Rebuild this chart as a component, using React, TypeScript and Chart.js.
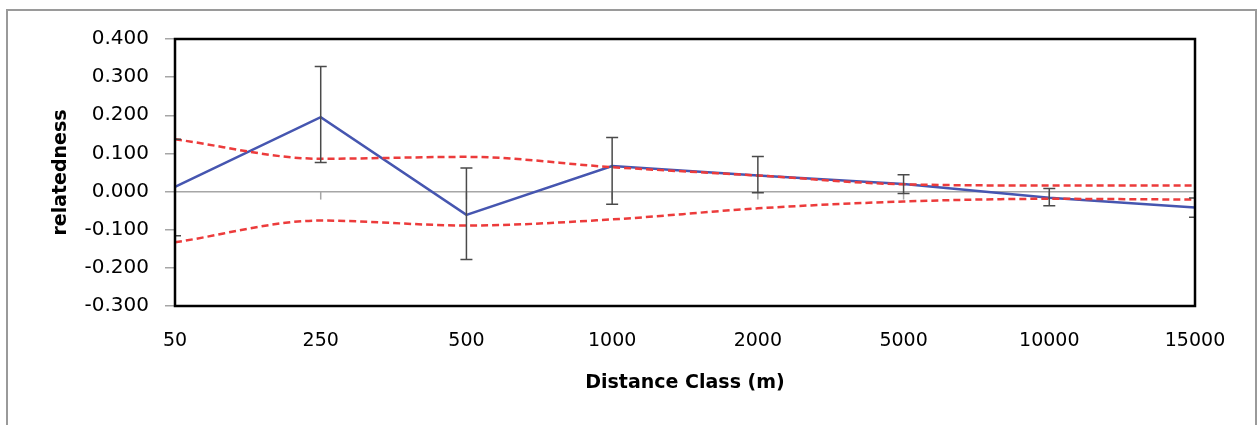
import React, { useEffect, useRef } from "react";
import { Chart, registerables } from "chart.js";

Chart.register(...registerables);

const distanceClasses = ["50", "250", "500", "1000", "2000", "5000", "10000", "15000"];
const relatedness = [0.012, 0.195, -0.061, 0.067, 0.042, 0.02, -0.016, -0.042];
const errorHigh = [0.137, 0.328, 0.062, 0.142, 0.092, 0.044, 0.008, -0.017];
const errorLow = [-0.116, 0.076, -0.178, -0.033, -0.003, -0.005, -0.037, -0.067];
const upperCI = [0.137, 0.086, 0.091, 0.064, 0.042, 0.019, 0.016, 0.016];
const lowerCI = [-0.133, -0.076, -0.089, -0.073, -0.044, -0.026, -0.019, -0.021];
const yTicks = [-0.3, -0.2, -0.1, 0, 0.1, 0.2, 0.3, 0.4];

const frameAndBars = {
  id: "frameAndBars",
  beforeDatasetsDraw(chart: any) {
    const { ctx, scales } = chart;
    const x = scales.x;
    const y = scales.y;
    const y0 = y.getPixelForValue(0);
    ctx.save();
    ctx.strokeStyle = "#a6a6a6";
    ctx.lineWidth = 1.5;
    distanceClasses.forEach((_, i) => {
      const px = x.getPixelForValue(i);
      ctx.beginPath();
      ctx.moveTo(px, y0);
      ctx.lineTo(px, y0 + 8);
      ctx.stroke();
    });
    ctx.restore();
  },
  afterDatasetsDraw(chart: any) {
    const { ctx, chartArea, scales } = chart;
    const x = scales.x;
    const y = scales.y;
    ctx.save();
    ctx.beginPath();
    ctx.rect(chartArea.left, chartArea.top, chartArea.right - chartArea.left, chartArea.bottom - chartArea.top);
    ctx.clip();
    ctx.strokeStyle = "#4a4a4a";
    ctx.lineWidth = 1.5;
    distanceClasses.forEach((_, i) => {
      const px = x.getPixelForValue(i);
      const hi = y.getPixelForValue(errorHigh[i]);
      const lo = y.getPixelForValue(errorLow[i]);
      ctx.beginPath();
      ctx.moveTo(px, hi);
      ctx.lineTo(px, lo);
      ctx.moveTo(px - 6, hi);
      ctx.lineTo(px + 6, hi);
      ctx.moveTo(px - 6, lo);
      ctx.lineTo(px + 6, lo);
      ctx.stroke();
    });
    ctx.restore();
    ctx.save();
    ctx.strokeStyle = "#000000";
    ctx.lineWidth = 2.5;
    ctx.strokeRect(chartArea.left, chartArea.top, chartArea.right - chartArea.left, chartArea.bottom - chartArea.top);
    ctx.restore();
  },
};

export default function App() {
  const ref = useRef<HTMLCanvasElement>(null);
  useEffect(() => {
    if (!ref.current) return;
    const chart = new Chart(ref.current, {
      type: "line",
      data: {
        labels: distanceClasses,
        datasets: [
          {
            label: "relatedness",
            data: relatedness,
            borderColor: "#4656b0",
            borderWidth: 2.5,
            pointRadius: 0,
            tension: 0,
            order: 3,
          },
          {
            label: "U",
            data: upperCI,
            borderColor: "#ec3b3b",
            borderWidth: 2.5,
            borderDash: [7, 4],
            pointRadius: 0,
            cubicInterpolationMode: "monotone",
            order: 1,
          },
          {
            label: "L",
            data: lowerCI,
            borderColor: "#ec3b3b",
            borderWidth: 2.5,
            borderDash: [7, 4],
            pointRadius: 0,
            cubicInterpolationMode: "monotone",
            order: 2,
          },
        ],
      },
      options: {
        responsive: false,
        animation: false,
        layout: { padding: { left: 50, right: 63, top: 39, bottom: 31 } },
        plugins: { legend: { display: false }, tooltip: { enabled: false } },
        scales: {
          x: {
            offset: false,
            border: { display: false },
            grid: { display: false, drawTicks: false },
            ticks: {
              color: "#000",
              font: { family: "DejaVu Sans", size: 19 },
              padding: 24,
              maxRotation: 0,
              autoSkip: false,
            },
            title: {
              display: true,
              text: "Distance Class (m)",
              color: "#000",
              font: { family: "DejaVu Sans", size: 19, weight: "bold" },
              padding: { top: 0, bottom: 0 },
            },
            afterFit(scale: any) {
              scale.height = 88;
            },
          },
          y: {
            min: -0.3,
            max: 0.4,
            border: { display: false },
            afterBuildTicks(scale: any) {
              scale.ticks = yTicks.map((v) => ({ value: v }));
            },
            grid: {
              drawTicks: true,
              tickLength: 10,
              tickColor: "#a6a6a6",
              lineWidth: 1.5,
              color: (c: any) => (c.tick && Math.abs(c.tick.value) < 1e-9 ? "#a6a6a6" : "rgba(0,0,0,0)"),
            },
            ticks: {
              color: "#000",
              font: { family: "DejaVu Sans", size: 20 },
              padding: 16,
              callback: (v: any) => Number(v).toFixed(3),
            },
            title: {
              display: true,
              text: "relatedness",
              color: "#000",
              font: { family: "DejaVu Sans", size: 19, weight: "bold" },
              padding: 0,
            },
            afterFit(scale: any) {
              scale.width = 125;
            },
          },
        },
      },
      plugins: [frameAndBars],
    });
    return () => chart.destroy();
  }, []);
  return (
    <div style={{ position: "absolute", left: 0, top: 0, width: 1258, height: 425, overflow: "hidden", background: "#fff" }}>
      <div
        style={{
          position: "absolute",
          left: 6,
          top: 9,
          width: 1251,
          height: 420,
          border: "2px solid #9a9a9a",
          boxSizing: "border-box",
        }}
      />
      <canvas ref={ref} width={1258} height={425} style={{ position: "absolute", left: 0, top: 0 }} />
    </div>
  );
}
